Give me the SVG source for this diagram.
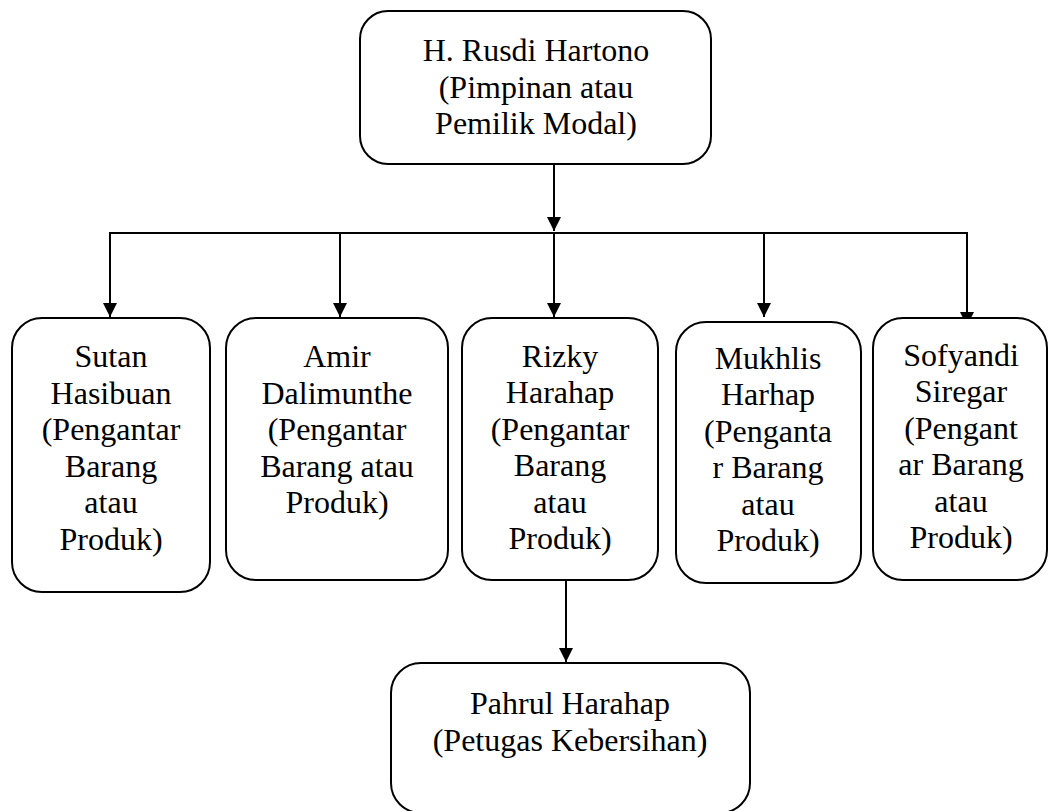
<svg xmlns="http://www.w3.org/2000/svg" width="1049" height="811" viewBox="0 0 1049 811">
<style>
.box{fill:#fff;stroke:#000;stroke-width:2}
.t{font-family:"Liberation Serif","Times New Roman",serif;font-size:32px;fill:#000;text-anchor:middle}
.c{fill:none;stroke:#000;stroke-width:2}
</style>
<defs>
<marker id="ah" markerUnits="userSpaceOnUse" markerWidth="16" markerHeight="14" refX="14" refY="7" orient="auto">
<path d="M0,0 L14,7 L0,14 Z" fill="#000"/>
</marker>
</defs>
<rect width="1049" height="811" fill="#fff"/>
<g id="connectors">
<line class="c" x1="554" y1="164" x2="554" y2="231" marker-end="url(#ah)"/>
<line class="c" x1="109" y1="233" x2="968" y2="233"/>
<line class="c" x1="110" y1="233" x2="110" y2="317" marker-end="url(#ah)"/>
<line class="c" x1="340" y1="233" x2="340" y2="317" marker-end="url(#ah)"/>
<line class="c" x1="554" y1="233" x2="554" y2="317" marker-end="url(#ah)"/>
<line class="c" x1="764" y1="233" x2="764" y2="317" marker-end="url(#ah)"/>
<line class="c" x1="967" y1="233" x2="967" y2="326" marker-end="url(#ah)"/>
<line class="c" x1="566" y1="580" x2="566" y2="662" marker-end="url(#ah)"/>
</g>
<g id="n-top">
<rect class="box" x="360" y="11" width="351" height="153" rx="28"/>
<text class="t" x="536" y="61">H. Rusdi Hartono</text>
<text class="t" x="536" y="97.5">(Pimpinan atau</text>
<text class="t" x="536" y="134">Pemilik Modal)</text>
</g>
<g id="n-sutan">
<rect class="box" x="12" y="318" width="198" height="274" rx="30"/>
<text class="t" x="111" y="367">Sutan</text>
<text class="t" x="111" y="403.5">Hasibuan</text>
<text class="t" x="111" y="440">(Pengantar</text>
<text class="t" x="111" y="476.5">Barang</text>
<text class="t" x="111" y="513">atau</text>
<text class="t" x="111" y="549.5">Produk)</text>
</g>
<g id="n-amir">
<rect class="box" x="226" y="318" width="222" height="262" rx="30"/>
<text class="t" x="337" y="367">Amir</text>
<text class="t" x="337" y="403.5">Dalimunthe</text>
<text class="t" x="337" y="440">(Pengantar</text>
<text class="t" x="337" y="476.5">Barang atau</text>
<text class="t" x="337" y="513">Produk)</text>
</g>
<g id="n-rizky">
<rect class="box" x="462" y="318" width="196" height="262" rx="30"/>
<text class="t" x="560" y="366.5">Rizky</text>
<text class="t" x="560" y="403">Harahap</text>
<text class="t" x="560" y="439.5">(Pengantar</text>
<text class="t" x="560" y="476">Barang</text>
<text class="t" x="560" y="512.5">atau</text>
<text class="t" x="560" y="549">Produk)</text>
</g>
<g id="n-mukhlis">
<rect class="box" x="676" y="322" width="185" height="261" rx="30"/>
<text class="t" x="768" y="368.5">Mukhlis</text>
<text class="t" x="768" y="405">Harhap</text>
<text class="t" x="768" y="441.5">(Penganta</text>
<text class="t" x="768" y="478">r Barang</text>
<text class="t" x="768" y="514.5">atau</text>
<text class="t" x="768" y="551">Produk)</text>
</g>
<g id="n-sofyandi">
<rect class="box" x="873" y="318" width="174" height="262" rx="30"/>
<text class="t" x="961" y="365.5">Sofyandi</text>
<text class="t" x="961" y="402">Siregar</text>
<text class="t" x="961" y="438.5">(Pengant</text>
<text class="t" x="961" y="475">ar Barang</text>
<text class="t" x="961" y="511.5">atau</text>
<text class="t" x="961" y="548">Produk)</text>
</g>
<g id="n-pahrul">
<rect class="box" x="391" y="663" width="359" height="150" rx="30"/>
<text class="t" x="570" y="714">Pahrul Harahap</text>
<text class="t" x="570" y="750.5">(Petugas Kebersihan)</text>
</g>
</svg>
